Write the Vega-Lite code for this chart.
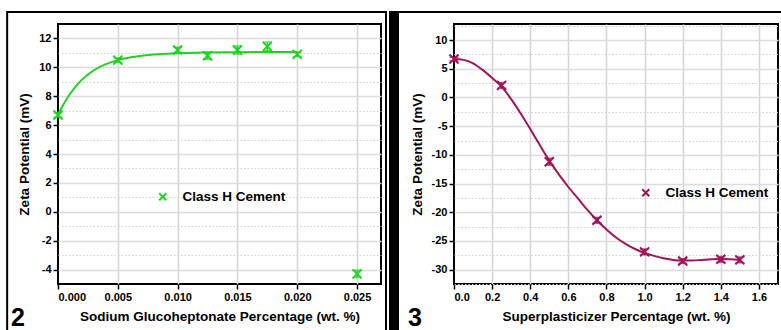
{
  "$schema": "https://vega.github.io/schema/vega-lite/v6.json",
  "background": "white",
  "padding": {"left": 5, "top": 10, "right": 0, "bottom": 0},
  "spacing": 0,
  "datasets": {
    "leftPts": [
      {"x": 0, "y": 6.7, "lo": 6.55, "hi": 6.85, "s": "Class H Cement"},
      {"x": 0.005, "y": 10.5, "lo": 10.35, "hi": 10.65, "s": "Class H Cement"},
      {"x": 0.01, "y": 11.2, "lo": 11.0, "hi": 11.4, "s": "Class H Cement"},
      {"x": 0.0125, "y": 10.8, "lo": 10.55, "hi": 11.05, "s": "Class H Cement"},
      {"x": 0.015, "y": 11.2, "lo": 10.92, "hi": 11.48, "s": "Class H Cement"},
      {"x": 0.0175, "y": 11.45, "lo": 11.15, "hi": 11.75, "s": "Class H Cement"},
      {"x": 0.02, "y": 10.9, "lo": 10.75, "hi": 11.05, "s": "Class H Cement"},
      {"x": 0.025, "y": -4.3, "lo": -4.55, "hi": -4.05, "s": "Class H Cement"}
    ],
    "leftFit": [
      {"x": 0, "y": 6.7}, {"x": 0.0005, "y": 7.5}, {"x": 0.001, "y": 8.15},
      {"x": 0.0015, "y": 8.7}, {"x": 0.002, "y": 9.15}, {"x": 0.0025, "y": 9.5},
      {"x": 0.003, "y": 9.8}, {"x": 0.004, "y": 10.22}, {"x": 0.005, "y": 10.5},
      {"x": 0.006, "y": 10.68}, {"x": 0.007, "y": 10.8}, {"x": 0.008, "y": 10.89},
      {"x": 0.009, "y": 10.94}, {"x": 0.01, "y": 10.98}, {"x": 0.012, "y": 11.02},
      {"x": 0.015, "y": 11.05}, {"x": 0.0175, "y": 11.06}, {"x": 0.02, "y": 11.07}
    ],
    "rightPts": [
      {"x": 0, "y": 6.7, "lo": 6.4, "hi": 7.0, "t": "Class H Cement"},
      {"x": 0.25, "y": 2.1, "lo": 1.6, "hi": 2.6, "t": "Class H Cement"},
      {"x": 0.5, "y": -11.2, "lo": -11.8, "hi": -10.6, "t": "Class H Cement"},
      {"x": 0.75, "y": -21.4, "lo": -21.9, "hi": -20.9, "t": "Class H Cement"},
      {"x": 1.0, "y": -26.9, "lo": -27.4, "hi": -26.4, "t": "Class H Cement"},
      {"x": 1.2, "y": -28.5, "lo": -28.9, "hi": -28.1, "t": "Class H Cement"},
      {"x": 1.4, "y": -28.2, "lo": -28.7, "hi": -27.7, "t": "Class H Cement"},
      {"x": 1.5, "y": -28.3, "lo": -28.8, "hi": -27.8, "t": "Class H Cement"}
    ],
    "rightFit": [
      {"x": 0, "y": 6.7}, {"x": 0.05, "y": 6.55}, {"x": 0.1, "y": 5.95},
      {"x": 0.15, "y": 4.8}, {"x": 0.2, "y": 3.4}, {"x": 0.25, "y": 1.9},
      {"x": 0.3, "y": -0.3}, {"x": 0.35, "y": -2.8}, {"x": 0.4, "y": -5.5},
      {"x": 0.45, "y": -8.3}, {"x": 0.5, "y": -11.0}, {"x": 0.55, "y": -13.4},
      {"x": 0.6, "y": -15.6}, {"x": 0.65, "y": -17.6}, {"x": 0.7, "y": -19.6},
      {"x": 0.75, "y": -21.4}, {"x": 0.8, "y": -23.0}, {"x": 0.85, "y": -24.4},
      {"x": 0.9, "y": -25.5}, {"x": 0.95, "y": -26.4}, {"x": 1.0, "y": -27.1},
      {"x": 1.05, "y": -27.6}, {"x": 1.1, "y": -28.0}, {"x": 1.15, "y": -28.3},
      {"x": 1.2, "y": -28.4}, {"x": 1.25, "y": -28.4}, {"x": 1.3, "y": -28.3},
      {"x": 1.35, "y": -28.2}, {"x": 1.4, "y": -28.15}, {"x": 1.45, "y": -28.2},
      {"x": 1.5, "y": -28.3}
    ]
  },
  "hconcat": [
    {
      "width": 323,
      "height": 260,
      "resolve": {"axis": {"x": "independent", "y": "independent"}},
      "layer": [
        {
          "data": {"name": "leftPts"},
          "mark": {"type": "point", "opacity": 0},
          "encoding": {
            "x": {"field": "x", "type": "quantitative",
              "scale": {"domain": [0, 0.027], "nice": false, "zero": false},
              "axis": {"orient": "top", "values": [0.005, 0.01, 0.015, 0.02, 0.025], "grid": true, "gridDash": [],
                "gridColor": "#d6d6d6", "gridWidth": 1.6,
                "labels": false, "ticks": false, "domain": false, "title": null}},
            "y": {"field": "y", "type": "quantitative",
              "scale": {"domain": [-5, 13], "nice": false, "zero": false},
              "axis": {"orient": "left", "values": [-3, -1, 1, 3, 5, 7, 9, 11], "grid": true,
                "gridDash": [1.5, 2], "gridColor": "#cfcfcf", "gridWidth": 1,
                "labels": false, "ticks": false, "domain": false, "title": null}}
          }
        },
        {
          "layer": [
            {
              "data": {"name": "leftFit"},
              "mark": {"type": "line", "color": "#1fd41f", "strokeWidth": 2, "interpolate": "monotone", "clip": false},
              "encoding": {
                "x": {"field": "x", "type": "quantitative",
                  "axis": {"orient": "bottom", "values": [0, 0.005, 0.01, 0.015, 0.02, 0.025], "format": ".3f", "grid": false, "labelOverlap": false, "title": "Sodium Glucoheptonate Percentage (wt. %)"}},
                "y": {"field": "y", "type": "quantitative",
                  "axis": {"orient": "left", "values": [-4, -2, 0, 2, 4, 6, 8, 10, 12], "grid": true, "gridDash": [], "labelOverlap": false,
                    "labelExpr": "replace(datum.label, '\u2212', '-')", "title": "Zeta Potential (mV)"}}
              }
            },
            {
              "data": {"name": "leftPts"},
              "mark": {"type": "rule", "color": "#1fd41f", "strokeWidth": 1.5},
              "encoding": {
                "x": {"field": "x", "type": "quantitative",
                  "axis": {"orient": "bottom", "values": [0, 0.005, 0.01, 0.015, 0.02, 0.025], "format": ".3f", "grid": false, "labelOverlap": false, "title": "Sodium Glucoheptonate Percentage (wt. %)"}},
                "y": {"field": "lo", "type": "quantitative",
                  "axis": {"orient": "left", "values": [-4, -2, 0, 2, 4, 6, 8, 10, 12], "grid": true, "gridDash": [], "labelOverlap": false,
                    "labelExpr": "replace(datum.label, '\u2212', '-')", "title": "Zeta Potential (mV)"}},
                "y2": {"field": "hi"}
              }
            },
            {
              "data": {"name": "leftPts"},
              "mark": {"type": "tick", "orient": "horizontal", "color": "#1fd41f", "size": 9, "thickness": 1.5},
              "encoding": {
                "x": {"field": "x", "type": "quantitative",
                  "axis": {"orient": "bottom", "values": [0, 0.005, 0.01, 0.015, 0.02, 0.025], "format": ".3f", "grid": false, "labelOverlap": false, "title": "Sodium Glucoheptonate Percentage (wt. %)"}},
                "y": {"field": "lo", "type": "quantitative",
                  "axis": {"orient": "left", "values": [-4, -2, 0, 2, 4, 6, 8, 10, 12], "grid": true, "gridDash": [], "labelOverlap": false,
                    "labelExpr": "replace(datum.label, '\u2212', '-')", "title": "Zeta Potential (mV)"}}
              }
            },
            {
              "data": {"name": "leftPts"},
              "mark": {"type": "tick", "orient": "horizontal", "color": "#1fd41f", "size": 9, "thickness": 1.5},
              "encoding": {
                "x": {"field": "x", "type": "quantitative",
                  "axis": {"orient": "bottom", "values": [0, 0.005, 0.01, 0.015, 0.02, 0.025], "format": ".3f", "grid": false, "labelOverlap": false, "title": "Sodium Glucoheptonate Percentage (wt. %)"}},
                "y": {"field": "hi", "type": "quantitative",
                  "axis": {"orient": "left", "values": [-4, -2, 0, 2, 4, 6, 8, 10, 12], "grid": true, "gridDash": [], "labelOverlap": false,
                    "labelExpr": "replace(datum.label, '\u2212', '-')", "title": "Zeta Potential (mV)"}}
              }
            },
            {
              "data": {"name": "leftPts"},
              "mark": {"type": "point", "shape": "M-1,-1L1,1M-1,1L1,-1", "filled": false, "strokeWidth": 2, "size": 81, "opacity": 1, "clip": false},
              "encoding": {
                "x": {"field": "x", "type": "quantitative",
                  "axis": {"orient": "bottom", "values": [0, 0.005, 0.01, 0.015, 0.02, 0.025], "format": ".3f", "grid": false, "labelOverlap": false, "title": "Sodium Glucoheptonate Percentage (wt. %)"}},
                "y": {"field": "y", "type": "quantitative",
                  "axis": {"orient": "left", "values": [-4, -2, 0, 2, 4, 6, 8, 10, 12], "grid": true, "gridDash": [], "labelOverlap": false,
                    "labelExpr": "replace(datum.label, '\u2212', '-')", "title": "Zeta Potential (mV)"}},
                "color": {"field": "s", "type": "nominal", "scale": {"range": ["#1fd41f"]},
                  "legend": {"title": null, "orient": "none", "legendX": 98, "legendY": 166,
                    "symbolType": "M-1,-1L1,1M-1,1L1,-1", "symbolSize": 49, "symbolStrokeWidth": 2,
                    "labelFontSize": 13.5, "labelFontWeight": "bold", "labelOffset": 13, "padding": 0}}
              }
            }
          ]
        },
        {
          "layer": [
            {
              "data": {"values": [{}]},
              "mark": {"type": "rect", "fill": null, "fillOpacity": 0, "stroke": "black", "strokeWidth": 2, "clip": false},
              "encoding": {
                "x": {"datum": -0.00425, "type": "quantitative", "axis": null},
                "x2": {"datum": 0.027417},
                "y": {"datum": 13.83, "type": "quantitative", "axis": null},
                "y2": {"datum": -9.3}
              }
            },
            {
              "data": {"values": [{}]},
              "mark": {"type": "text", "text": "2", "fontSize": 25, "fontWeight": "bold", "font": "Liberation Sans", "align": "left", "baseline": "alphabetic", "color": "black", "clip": false},
              "encoding": {
                "x": {"datum": -0.00392, "type": "quantitative", "axis": null},
                "y": {"datum": -7.91, "type": "quantitative", "axis": null}
              }
            }
          ]
        }
      ]
    },
    {
      "width": 324,
      "height": 260,
      "resolve": {"axis": {"x": "independent", "y": "independent"}},
      "layer": [
        {
          "data": {"name": "rightPts"},
          "mark": {"type": "point", "opacity": 0},
          "encoding": {
            "x": {"field": "x", "type": "quantitative",
              "scale": {"domain": [0, 1.7], "nice": false, "zero": false},
              "axis": {"orient": "top", "values": [0.2, 0.4, 0.6, 0.8, 1.0, 1.2, 1.4, 1.6], "grid": true, "gridDash": [],
                "gridColor": "#d6d6d6", "gridWidth": 1.6,
                "labels": false, "ticks": false, "domain": false, "title": null}},
            "y": {"field": "y", "type": "quantitative",
              "scale": {"domain": [-32.5, 12.8], "nice": false, "zero": false},
              "axis": {"orient": "left", "values": [-32.5, -27.5, -22.5, -17.5, -12.5, -7.5, -2.5, 2.5, 7.5, 12.5], "grid": true,
                "gridDash": [1.5, 2], "gridColor": "#cfcfcf", "gridWidth": 1,
                "labels": false, "ticks": false, "domain": false, "title": null}}
          }
        },
        {
          "layer": [
            {
              "data": {"name": "rightFit"},
              "mark": {"type": "line", "color": "#a0145a", "strokeWidth": 2, "interpolate": "monotone", "clip": false},
              "encoding": {
                "x": {"field": "x", "type": "quantitative",
                  "axis": {"orient": "bottom", "values": [0, 0.2, 0.4, 0.6, 0.8, 1.0, 1.2, 1.4, 1.6], "format": ".1f", "grid": false, "labelOverlap": false, "title": "Superplasticizer Percentage (wt. %)"}},
                "y": {"field": "y", "type": "quantitative",
                  "axis": {"orient": "left", "values": [-30, -25, -20, -15, -10, -5, 0, 5, 10], "grid": true, "gridDash": [], "labelOverlap": false,
                    "labelExpr": "replace(datum.label, '\u2212', '-')", "title": "Zeta Potential (mV)"}}
              }
            },
            {
              "data": {"name": "rightPts"},
              "mark": {"type": "rule", "color": "#a0145a", "strokeWidth": 1.5},
              "encoding": {
                "x": {"field": "x", "type": "quantitative",
                  "axis": {"orient": "bottom", "values": [0, 0.2, 0.4, 0.6, 0.8, 1.0, 1.2, 1.4, 1.6], "format": ".1f", "grid": false, "labelOverlap": false, "title": "Superplasticizer Percentage (wt. %)"}},
                "y": {"field": "lo", "type": "quantitative",
                  "axis": {"orient": "left", "values": [-30, -25, -20, -15, -10, -5, 0, 5, 10], "grid": true, "gridDash": [], "labelOverlap": false,
                    "labelExpr": "replace(datum.label, '\u2212', '-')", "title": "Zeta Potential (mV)"}},
                "y2": {"field": "hi"}
              }
            },
            {
              "data": {"name": "rightPts"},
              "mark": {"type": "tick", "orient": "horizontal", "color": "#a0145a", "size": 9, "thickness": 1.5},
              "encoding": {
                "x": {"field": "x", "type": "quantitative",
                  "axis": {"orient": "bottom", "values": [0, 0.2, 0.4, 0.6, 0.8, 1.0, 1.2, 1.4, 1.6], "format": ".1f", "grid": false, "labelOverlap": false, "title": "Superplasticizer Percentage (wt. %)"}},
                "y": {"field": "lo", "type": "quantitative",
                  "axis": {"orient": "left", "values": [-30, -25, -20, -15, -10, -5, 0, 5, 10], "grid": true, "gridDash": [], "labelOverlap": false,
                    "labelExpr": "replace(datum.label, '\u2212', '-')", "title": "Zeta Potential (mV)"}}
              }
            },
            {
              "data": {"name": "rightPts"},
              "mark": {"type": "tick", "orient": "horizontal", "color": "#a0145a", "size": 9, "thickness": 1.5},
              "encoding": {
                "x": {"field": "x", "type": "quantitative",
                  "axis": {"orient": "bottom", "values": [0, 0.2, 0.4, 0.6, 0.8, 1.0, 1.2, 1.4, 1.6], "format": ".1f", "grid": false, "labelOverlap": false, "title": "Superplasticizer Percentage (wt. %)"}},
                "y": {"field": "hi", "type": "quantitative",
                  "axis": {"orient": "left", "values": [-30, -25, -20, -15, -10, -5, 0, 5, 10], "grid": true, "gridDash": [], "labelOverlap": false,
                    "labelExpr": "replace(datum.label, '\u2212', '-')", "title": "Zeta Potential (mV)"}}
              }
            },
            {
              "data": {"name": "rightPts"},
              "mark": {"type": "point", "shape": "M-1,-1L1,1M-1,1L1,-1", "filled": false, "strokeWidth": 2, "size": 81, "opacity": 1, "clip": false},
              "encoding": {
                "x": {"field": "x", "type": "quantitative",
                  "axis": {"orient": "bottom", "values": [0, 0.2, 0.4, 0.6, 0.8, 1.0, 1.2, 1.4, 1.6], "format": ".1f", "grid": false, "labelOverlap": false, "title": "Superplasticizer Percentage (wt. %)"}},
                "y": {"field": "y", "type": "quantitative",
                  "axis": {"orient": "left", "values": [-30, -25, -20, -15, -10, -5, 0, 5, 10], "grid": true, "gridDash": [], "labelOverlap": false,
                    "labelExpr": "replace(datum.label, '\u2212', '-')", "title": "Zeta Potential (mV)"}},
                "color": {"field": "t", "type": "nominal", "scale": {"range": ["#a0145a"]},
                  "legend": {"title": null, "orient": "none", "legendX": 185, "legendY": 162,
                    "symbolType": "M-1,-1L1,1M-1,1L1,-1", "symbolSize": 49, "symbolStrokeWidth": 2,
                    "labelFontSize": 13.5, "labelFontWeight": "bold", "labelOffset": 13, "padding": 0}}
              }
            }
          ]
        },
        {
          "layer": [
            {
              "data": {"values": [{}]},
              "mark": {"type": "rect", "fill": null, "fillOpacity": 0, "stroke": "black", "strokeWidth": 2, "clip": false},
              "encoding": {
                "x": {"datum": -0.315, "type": "quantitative", "axis": null},
                "x2": {"datum": 1.85},
                "y": {"datum": 14.89, "type": "quantitative", "axis": null},
                "y2": {"datum": -43.3}
              }
            },
            {
              "data": {"values": [{}]},
              "mark": {"type": "rect", "fill": "black", "clip": false},
              "encoding": {
                "x": {"datum": -0.341, "type": "quantitative", "axis": null},
                "x2": {"datum": -0.2886},
                "y": {"datum": 15.06, "type": "quantitative", "axis": null},
                "y2": {"datum": -43.3}
              }
            },
            {
              "data": {"values": [{}]},
              "mark": {"type": "text", "text": "3", "fontSize": 25, "fontWeight": "bold", "font": "Liberation Sans", "align": "left", "baseline": "alphabetic", "color": "black", "clip": false},
              "encoding": {
                "x": {"datum": -0.2413, "type": "quantitative", "axis": null},
                "y": {"datum": -39.82, "type": "quantitative", "axis": null}
              }
            }
          ]
        }
      ]
    }
  ],
  "resolve": {"scale": {"color": "independent"}, "legend": {"color": "independent"}},
  "config": {
    "font": "Liberation Sans",
    "view": {"stroke": "black", "strokeWidth": 2},
    "axis": {
      "labelFont": "Liberation Sans", "labelFontSize": 11, "labelFontWeight": "bold", "labelColor": "black",
      "labelPadding": 2,
      "titleFont": "Liberation Sans", "titleFontSize": 13.5, "titleFontWeight": "bold", "titleColor": "black",
      "titlePadding": 7,
      "tickColor": "black", "tickWidth": 1.5, "tickSize": 5,
      "domain": false,
      "gridColor": "#dcdcdc", "gridWidth": 1.4
    },
    "legend": {"labelFont": "Liberation Sans", "labelColor": "black"}
  }
}
